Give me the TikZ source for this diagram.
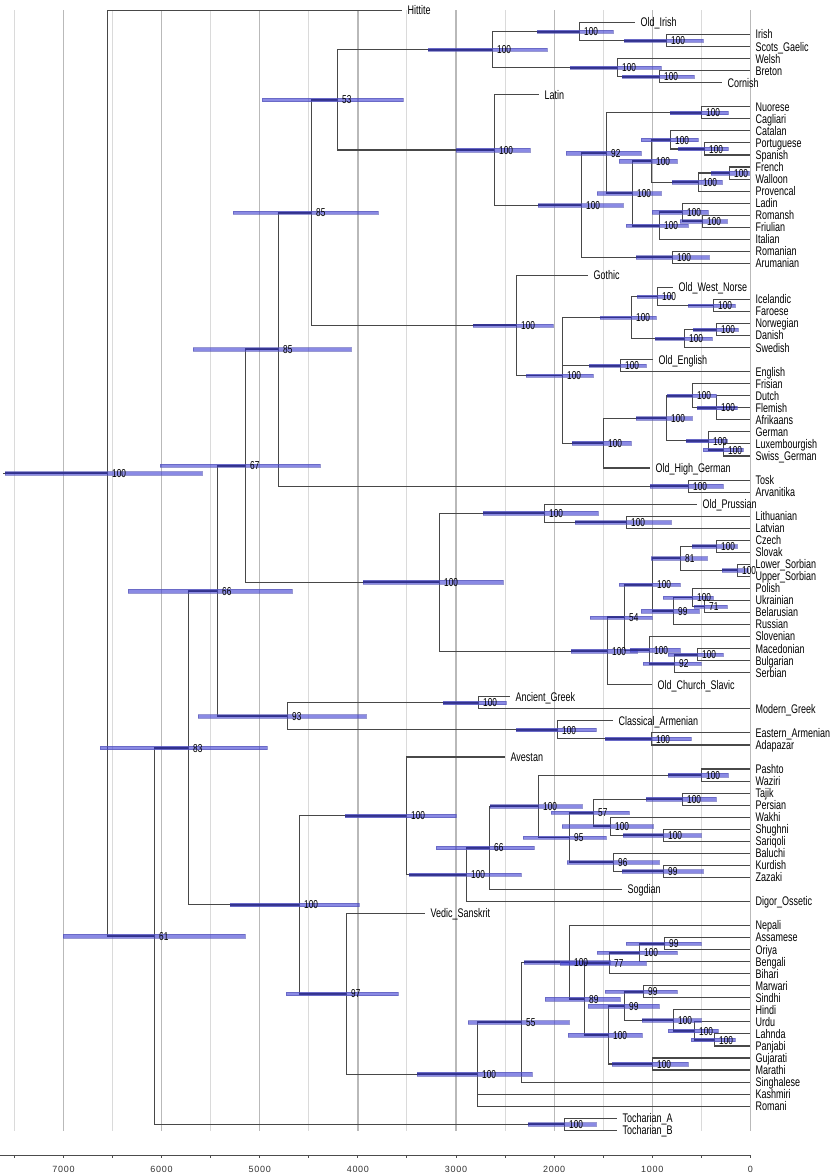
\documentclass[tikz,border=0pt]{standalone}
\usepackage{fontspec}
\setmainfont{Liberation Sans}
\newfontfamily\lblfont{Liberation Sans}[FakeStretch=0.72]
\newfontfamily\axfont{Liberation Sans}[LetterSpace=8]
\definecolor{brc}{RGB}{72,72,72}
\definecolor{hpd}{RGB}{60,60,210}
\definecolor{hpdo}{RGB}{85,85,180}
\definecolor{hpdk}{RGB}{48,48,140}
\definecolor{gmaj}{RGB}{185,185,185}
\definecolor{gmin}{RGB}{218,218,218}
\pgfdeclarelayer{gridl}
\pgfdeclarelayer{edges}
\pgfdeclarelayer{labels}
\pgfsetlayers{gridl,edges,main,labels}
\tikzset{
  declare function={yy(\i)=10.5+12.04*\i;},
  br/.style={draw=brc, line width=1.1pt},
  hpdbar/.style={fill=hpd, fill opacity=0.6, draw=hpdo, draw opacity=0.6, line width=0.35pt},
  hpddark/.style={draw=hpdk, draw opacity=0.9, line width=1.9pt},
  sup/.style={anchor=base west, inner sep=0pt, xshift=4.5pt, yshift=-4.1pt, font=\lblfont\fontsize{11.5}{11.5}\selectfont},
  lf/.style={anchor=base west, inner sep=0pt, xshift=5pt, yshift=-4.4pt, font=\lblfont\fontsize{12.5}{12.5}\selectfont},
  gridmaj/.style={draw=gmaj, line width=1.3pt},
  gridmin/.style={draw=gmin, line width=0.9pt},
  axisline/.style={draw=black!70, line width=0.9pt},
  axlab/.style={anchor=base, inner sep=0pt, font=\axfont\fontsize{9}{9}\selectfont, text=black!80},
}
\newcommand\inode[7]{%
  \coordinate (#1) at (#2,{yy(#3)});
  \path[hpdbar] (#4,{yy(#3)-1.7}) rectangle (#5,{yy(#3)+1.7});
  \draw[hpddark] (#6,{yy(#3)}) -- (#1);
  \begin{pgfonlayer}{labels}\node[sup] (s#1) at (#1) {#7};\end{pgfonlayer}
}
\newcommand\leaf[4]{%
  \coordinate (l#1) at (#2,{yy(#1)});
  \begin{pgfonlayer}{edges}\draw[br] (#3) |- (l#1);\end{pgfonlayer}
  \begin{pgfonlayer}{labels}\node[lf] (t#1) at (l#1) {#4};\end{pgfonlayer}
}
\begin{document}
\begin{tikzpicture}[x=1pt,y=-1pt]
\begin{pgfonlayer}{gridl}
\fill[white] (0,0) rectangle (830,1176);
\foreach \t in {500,1500,...,7500} \draw[gridmin] ({750-0.09814*\t},10) -- ({750-0.09814*\t},1131);
\foreach \t in {0,1000,...,7000} \draw[gridmaj] ({750-0.09814*\t},10) -- ({750-0.09814*\t},1131);
\draw[axisline] (0,1155) -- (750,1155);
\foreach \t in {0,500,...,7500} \draw[axisline] ({750-0.09814*\t},1155) -- ++(0,3);
\foreach \t in {0,1000,...,7000} \node[axlab] (ax\t) at ({750-0.09814*\t},1172.5) {\t};
\end{pgfonlayer}
\useasboundingbox (0,0) rectangle (830,1176);
% internal nodes with HPD bars
\inode{r}{107}{38.44}{5}{202}{5}{100}
\inode{n61}{154}{76.875}{63}{245}{107}{61}
\inode{n83}{188}{61.25}{100}{267}{154}{83}
\inode{n66}{217}{48.22}{128}{292}{188}{66}
\inode{n67}{245}{37.81}{160}{320}{217}{67}
\inode{n85}{278}{28.14}{193}{351}{245}{85}
\inode{n85b}{311}{16.787}{233}{378}{278}{85}
\inode{n53}{337}{7.418}{262}{403}{311}{53}
\inode{celt}{492}{3.25}{428}{547}{428}{100}
\inode{goid}{579}{1.75}{537}{613}{537}{100}
\inode{gis}{666}{2.5}{624}{703}{624}{100}
\inode{bry}{617}{4.75}{570}{661}{570}{100}
\inode{bc}{659}{5.5}{622}{694}{622}{100}
\inode{ital}{494}{11.5859}{456}{530}{456}{100}
\inode{rom}{581}{16.1719}{538}{623}{538}{100}
\inode{n92}{606}{11.8438}{566}{641}{581}{92}
\inode{sard}{701}{8.5}{670}{728}{670}{100}
\inode{na}{632}{15.1875}{597}{661}{606}{100}
\inode{ig}{651}{12.5}{619}{677}{632}{100}
\inode{ibero}{670}{10.75}{641}{698}{651}{100}
\inode{ps}{704}{11.5}{678}{728}{678}{100}
\inode{gallo}{698}{14.25}{672}{722}{672}{100}
\inode{fw}{729}{13.5}{711}{749}{711}{100}
\inode{ri}{659}{17.875}{626}{688}{632}{100}
\inode{lrf}{682}{16.75}{652}{708}{659}{100}
\inode{rf}{702}{17.5}{680}{727}{682}{100}
\inode{ra}{672}{20.5}{636}{709}{636}{100}
\inode{germ}{516}{26.156}{473}{553}{473}{100}
\inode{nw}{562}{30.3125}{526}{593}{526}{100}
\inode{north}{631}{25.5}{600}{656}{600}{100}
\inode{wsc}{657}{23.75}{637}{672}{637}{100}
\inode{icfa}{713}{24.5}{688}{735}{688}{100}
\inode{esc}{684}{27.25}{655}{712}{655}{100}
\inode{nd}{716}{26.5}{693}{738}{693}{100}
\inode{oe}{620}{29.5}{589}{646}{589}{100}
\inode{cont}{603}{35.9375}{572}{631}{572}{100}
\inode{dg}{666}{33.875}{636}{692}{636}{100}
\inode{fris}{692}{32}{667}{716}{667}{100}
\inode{dfa}{716}{33}{697}{737}{697}{100}
\inode{ger}{708}{35.75}{686}{727}{686}{100}
\inode{ls}{723}{36.5}{703}{743}{708}{100}
\inode{ta}{688}{39.5}{650}{723}{650}{100}
\inode{bs}{439}{47.477}{363}{503}{363}{100}
\inode{balt}{544}{41.75}{483}{598}{483}{100}
\inode{ll}{626}{42.5}{575}{671}{575}{100}
\inode{slav}{607}{53.203}{571}{637}{571}{100}
\inode{n54}{624}{50.406}{590}{652}{607}{54}
\inode{we}{652}{47.6875}{619}{680}{624}{100}
\inode{n81}{680}{45.5}{651}{707}{652}{81}
\inode{cs}{716}{44.5}{692}{737}{692}{100}
\inode{sorb}{737}{46.5}{722}{748}{722}{100}
\inode{n99e}{673}{49.875}{641}{699}{652}{99}
\inode{pub}{692}{48.75}{663}{713}{673}{100}
\inode{n71}{704}{49.5}{694}{727}{694}{71}
\inode{ss}{649}{53.125}{630}{680}{630}{100}
\inode{n92s}{674}{54.25}{643}{701}{649}{92}
\inode{mb}{697}{53.5}{668}{723}{674}{100}
\inode{n93}{287}{58.625}{198}{366}{217}{93}
\inode{greek}{478}{57.5}{443}{506}{443}{100}
\inode{arm}{557}{59.75}{516}{596}{516}{100}
\inode{eaa}{651}{60.5}{605}{691}{605}{100}
\inode{ii}{299}{74.28}{230}{359}{230}{100}
\inode{iran}{406}{66.887}{345}{456}{345}{100}
\inode{ndig}{466}{71.77}{409}{521}{409}{100}
\inode{n66i}{489}{69.547}{436}{534}{466}{66}
\inode{nx}{538}{66.09}{490}{582}{490}{100}
\inode{pw}{701}{63.5}{668}{728}{668}{100}
\inode{n95}{569}{68.6875}{523}{606}{538}{95}
\inode{n57}{593}{66.625}{551}{629}{569}{57}
\inode{tp}{682}{65.5}{646}{716}{646}{100}
\inode{wss}{610}{67.75}{562}{653}{593}{100}
\inode{ssa}{663}{68.5}{623}{701}{623}{100}
\inode{n96}{613}{70.75}{567}{659}{569}{96}
\inode{kz}{663}{71.5}{622}{703}{622}{99}
\inode{n97}{346}{81.67}{286}{398}{299}{97}
\inode{nk}{477}{88.34}{417}{532}{417}{100}
\inode{n55}{521}{84.03}{468}{569}{477}{55}
\inode{nn}{569}{79.05}{524}{610}{524}{100}
\inode{n89}{584}{82.11}{545}{620}{569}{89}
\inode{n77}{609}{79.125}{560}{646}{584}{77}
\inode{nb}{639}{78.25}{597}{677}{609}{100}
\inode{ao}{664}{77.5}{626}{701}{639}{99}
\inode{nh}{608}{85.09}{568}{642}{584}{100}
\inode{nf}{624}{82.6875}{588}{659}{608}{99}
\inode{ms}{643}{81.5}{605}{677}{624}{99}
\inode{ni}{673}{83.875}{642}{701}{642}{100}
\inode{nj}{694}{84.75}{668}{718}{673}{100}
\inode{lp}{714}{85.5}{691}{735}{694}{100}
\inode{gm}{652}{87.5}{612}{688}{612}{100}
\inode{toch}{564}{92.5}{528}{596}{528}{100}
\begin{pgfonlayer}{edges}
% root stem
\coordinate (rs) at (3,{yy(38.44)});
\draw[br] (rs) -- (r);
% internal branches
\foreach \p/\c in {r/n61, n61/n83, n61/toch, n83/n66, n83/ii, n66/n67, n66/n93, n67/n85, n67/bs, n85/n85b, n85/ta, n85b/n53, n85b/germ, n53/celt, n53/ital, celt/goid, celt/bry, goid/gis, bry/bc, ital/rom, rom/n92, rom/ra, n92/sard, n92/na, na/ig, na/ri, ig/ibero, ig/gallo, ibero/ps, gallo/fw, ri/lrf, lrf/rf, germ/nw, nw/north, nw/oe, nw/cont, north/wsc, north/esc, wsc/icfa, esc/nd, cont/dg, dg/fris, dg/ger, fris/dfa, ger/ls, bs/balt, bs/slav, balt/ll, slav/n54, n54/we, n54/ss, we/n81, we/n99e, n81/cs, n81/sorb, n99e/pub, pub/n71, ss/n92s, n92s/mb, n93/greek, n93/arm, arm/eaa, ii/iran, ii/n97, iran/ndig, ndig/n66i, n66i/nx, nx/pw, nx/n95, n95/n57, n95/n96, n57/tp, n57/wss, wss/ssa, n96/kz, n97/nk, nk/n55, n55/nn, nn/n89, n89/n77, n89/nh, n77/nb, nb/ao, nh/nf, nh/gm, nf/ms, nf/ni, ni/nj, nj/lp}
  \draw[br] (\p) |- (\c);
\end{pgfonlayer}
% leaves
\leaf{0}{402}{r}{Hittite}
\leaf{1}{635}{goid}{Old\_Irish}
\leaf{2}{750}{gis}{Irish}
\leaf{3}{750}{gis}{Scots\_Gaelic}
\leaf{4}{750}{bry}{Welsh}
\leaf{5}{750}{bc}{Breton}
\leaf{6}{722}{bc}{Cornish}
\leaf{7}{539}{ital}{Latin}
\leaf{8}{750}{sard}{Nuorese}
\leaf{9}{750}{sard}{Cagliari}
\leaf{10}{750}{ibero}{Catalan}
\leaf{11}{750}{ps}{Portuguese}
\leaf{12}{750}{ps}{Spanish}
\leaf{13}{750}{fw}{French}
\leaf{14}{750}{fw}{Walloon}
\leaf{15}{750}{gallo}{Provencal}
\leaf{16}{750}{lrf}{Ladin}
\leaf{17}{750}{rf}{Romansh}
\leaf{18}{750}{rf}{Friulian}
\leaf{19}{750}{ri}{Italian}
\leaf{20}{750}{ra}{Romanian}
\leaf{21}{750}{ra}{Arumanian}
\leaf{22}{588}{germ}{Gothic}
\leaf{23}{673}{wsc}{Old\_West\_Norse}
\leaf{24}{750}{icfa}{Icelandic}
\leaf{25}{750}{icfa}{Faroese}
\leaf{26}{750}{nd}{Norwegian}
\leaf{27}{750}{nd}{Danish}
\leaf{28}{750}{esc}{Swedish}
\leaf{29}{653}{oe}{Old\_English}
\leaf{30}{750}{oe}{English}
\leaf{31}{750}{fris}{Frisian}
\leaf{32}{750}{dfa}{Dutch}
\leaf{33}{750}{dfa}{Flemish}
\leaf{34}{750}{dfa}{Afrikaans}
\leaf{35}{750}{ger}{German}
\leaf{36}{750}{ls}{Luxembourgish}
\leaf{37}{750}{ls}{Swiss\_German}
\leaf{38}{650}{cont}{Old\_High\_German}
\leaf{39}{750}{ta}{Tosk}
\leaf{40}{750}{ta}{Arvanitika}
\leaf{41}{697}{balt}{Old\_Prussian}
\leaf{42}{750}{ll}{Lithuanian}
\leaf{43}{750}{ll}{Latvian}
\leaf{44}{750}{cs}{Czech}
\leaf{45}{750}{cs}{Slovak}
\leaf{46}{750}{sorb}{Lower\_Sorbian}
\leaf{47}{750}{sorb}{Upper\_Sorbian}
\leaf{48}{750}{pub}{Polish}
\leaf{49}{750}{n71}{Ukrainian}
\leaf{50}{750}{n71}{Belarusian}
\leaf{51}{750}{n99e}{Russian}
\leaf{52}{750}{ss}{Slovenian}
\leaf{53}{750}{mb}{Macedonian}
\leaf{54}{750}{mb}{Bulgarian}
\leaf{55}{750}{n92s}{Serbian}
\leaf{56}{652}{slav}{Old\_Church\_Slavic}
\leaf{57}{510}{greek}{Ancient\_Greek}
\leaf{58}{750}{greek}{Modern\_Greek}
\leaf{59}{613}{arm}{Classical\_Armenian}
\leaf{60}{750}{eaa}{Eastern\_Armenian}
\leaf{61}{750}{eaa}{Adapazar}
\leaf{62}{505}{iran}{Avestan}
\leaf{63}{750}{pw}{Pashto}
\leaf{64}{750}{pw}{Waziri}
\leaf{65}{750}{tp}{Tajik}
\leaf{66}{750}{tp}{Persian}
\leaf{67}{750}{wss}{Wakhi}
\leaf{68}{750}{ssa}{Shughni}
\leaf{69}{750}{ssa}{Sariqoli}
\leaf{70}{750}{n96}{Baluchi}
\leaf{71}{750}{kz}{Kurdish}
\leaf{72}{750}{kz}{Zazaki}
\leaf{73}{622}{n66i}{Sogdian}
\leaf{74}{750}{ndig}{Digor\_Ossetic}
\leaf{75}{425}{n97}{Vedic\_Sanskrit}
\leaf{76}{750}{nn}{Nepali}
\leaf{77}{750}{ao}{Assamese}
\leaf{78}{750}{ao}{Oriya}
\leaf{79}{750}{nb}{Bengali}
\leaf{80}{750}{n77}{Bihari}
\leaf{81}{750}{ms}{Marwari}
\leaf{82}{750}{ms}{Sindhi}
\leaf{83}{750}{ni}{Hindi}
\leaf{84}{750}{nj}{Urdu}
\leaf{85}{750}{lp}{Lahnda}
\leaf{86}{750}{lp}{Panjabi}
\leaf{87}{750}{gm}{Gujarati}
\leaf{88}{750}{gm}{Marathi}
\leaf{89}{750}{n55}{Singhalese}
\leaf{90}{750}{nk}{Kashmiri}
\leaf{91}{750}{nk}{Romani}
\leaf{92}{617}{toch}{Tocharian\_A}
\leaf{93}{617}{toch}{Tocharian\_B}
\end{tikzpicture}
\end{document}
